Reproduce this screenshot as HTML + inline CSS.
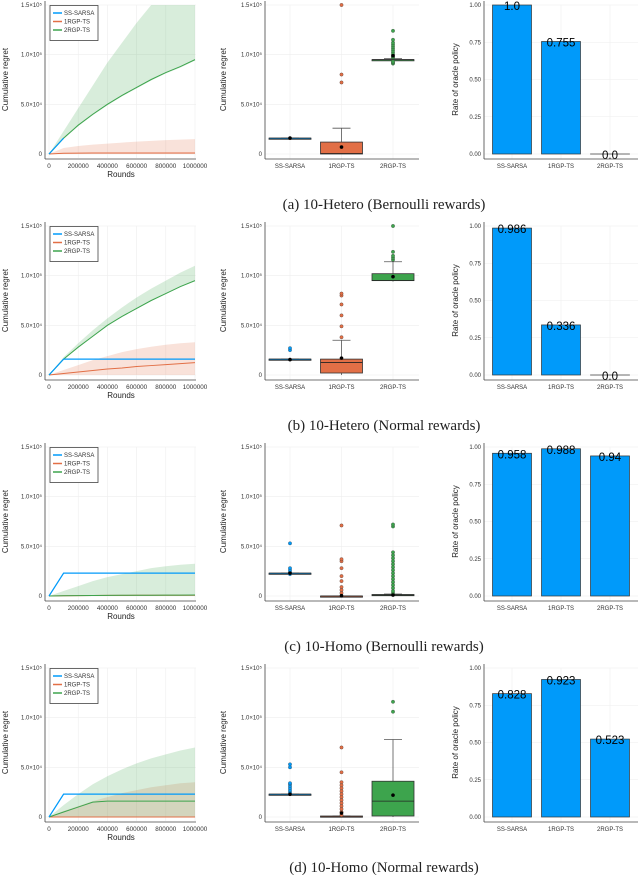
<!DOCTYPE html>
<html><head><meta charset="utf-8">
<style>
body{margin:0;background:#fff;}
svg{display:block;font-family:"Liberation Sans",sans-serif;}
.cap{font-family:"Liberation Serif",serif;font-size:15px;fill:#222;}
</style></head>
<body>
<svg id="fig" width="640" height="875" viewBox="0 0 640 875"></svg>
<script>
// ---- data ----
const panelTops = [5, 226, 447, 668];
const captions = ["(a) 10-Hetero (Bernoulli rewards)","(b) 10-Hetero (Normal rewards)","(c) 10-Homo (Bernoulli rewards)","(d) 10-Homo (Normal rewards)"];
const methods = ["SS-SARSA","1RGP-TS","2RGP-TS"];
const colors = ["#009AFA","#E26F46","#3DA44D"];
const rounds = [0,100000,200000,300000,400000,500000,600000,700000,800000,900000,1000000];
const xTicks = [0,200000,400000,600000,800000,1000000];
const yTicksRegret = [0,50000,100000,150000];
const yTickLabelsRegret = ["0","5.0×10⁴","1.0×10⁵","1.5×10⁵"];
const yTicksRate = [0,0.25,0.5,0.75,1.0];
const yTickLabelsRate = ["0.00","0.25","0.50","0.75","1.00"];

const ssMean = [
 [0,16000,null,null,null,null,null,null,null,null,null],
 [0,16000,16000,16000,16000,16000,16000,16000,16000,16000,16000],
 [0,23000,23000,23000,23000,23000,23000,23000,23000,23000,23000],
 [0,23000,23000,23000,23000,23000,23000,23000,23000,23000,23000]];
const rgp1Mean = [
 [0,800,900,1000,1000,1000,1000,1000,1000,1000,1000],
 [0,1500,3000,4500,6000,7000,8500,9500,10500,11500,12500],
 [0,300,400,500,600,600,700,700,700,700,800],
 [0,0,0,0,0,0,0,0,0,0,0]];
const rgp1Upper = [
 [0,6000,8000,9500,10500,11500,12500,13200,14000,14500,15000],
 [0,5000,10000,15000,19000,23000,26000,28500,30500,32000,33000],
 [0,800,900,1000,1000,1000,1000,1000,1000,1000,1000],
 [0,6000,11000,16000,20000,24000,27000,30000,32000,34000,35000]];
const rgp2Mean = [
 [0,16000,29000,40000,50000,59000,67000,75000,82000,88000,95000],
 [0,16000,28000,39000,50000,59000,67000,75000,82000,89000,95000],
 [0,300,400,500,600,700,800,800,900,900,1000],
 [0,5000,10000,15000,16000,16000,16000,16000,16000,16000,16000]];
const rgp2Lower = [
 [0,15000,28000,39000,49000,58000,66000,74000,81000,87000,94000],
 [0,15500,27500,38500,49500,58500,66500,74500,81500,88500,94500],
 [0,0,0,0,0,0,0,0,0,0,0],
 [0,0,0,0,0,0,0,0,0,0,0]];
const rgp2Upper = [
 [0,23000,46000,69000,92000,112000,132000,150000,150000,150000,150000],
 [0,18000,32000,45000,57000,68000,78000,87000,95000,103000,110000],
 [0,5000,10000,15000,19000,22000,25000,28000,30000,31500,32500],
 [0,12000,23000,33000,41000,48000,54000,59000,63000,67000,70000]];

const boxStats = [
 [[16000,16000,16000,16000,16000,16000],[0,500,12000,0,26000,7000],[95000,95000,95000,94000,96000,99000]],
 [[16000,16000,16000,16000,16000,15500],[2000,12500,16000,0,35000,17000],[95000,95000,102000,94000,114000,99000]],
 [[23000,23000,23000,23000,23000,23000],[0,0,0,0,0,300],[1000,1000,1500,0,2000,1000]],
 [[23000,23000,23000,23000,23000,23000],[0,0,1000,0,1000,4000],[1000,16000,36000,0,78000,22000]]];
const boxOutliers = [
 [[],[72000,80000,150000],[91000,92000,93000,97000,98000,100000,102000,104000,106000,108000,110000,112000,115000,124000]],
 [[25000,27000],[38000,49000,60000,71000,80000,82000],[116000,118000,120000,124000,150000]],
 [[22000,24000,26000,28000,53000],[3000,6000,9000,15000,20000,28000,35000,37000,71000],[3000,5000,8000,11000,14000,17000,20000,23000,26000,29000,32000,35000,38000,41000,44000,70000,72000]],
 [[23000,25000,27000,29000,31000,33000,34000,50000,53000],[2000,5000,8000,11000,14000,17000,20000,23000,26000,29000,32000,35000,45000,70000],[106000,116000]]];

const rates = [[1.0,0.755,0.0],[0.986,0.336,0.0],[0.958,0.988,0.94],[0.828,0.923,0.523]];
const rateLabels = [["1.0","0.755","0.0"],["0.986","0.336","0.0"],["0.958","0.988","0.94"],["0.828","0.923","0.523"]];

// ---- drawing ----
const NS="http://www.w3.org/2000/svg";
const svg=document.getElementById('fig');
function mk(tag,attrs,parent,text){const e=document.createElementNS(NS,tag);for(const k in attrs)e.setAttribute(k,attrs[k]);if(text!==undefined)e.textContent=text;(parent||svg).appendChild(e);return e;}
const H=149;
function yScaleR(top){return v=>top+H-(v/150000)*H;}
function yScaleB(top){return v=>top+H-v*H;}

panelTops.forEach((top,p)=>{
  const g=mk('g',{});
  
  
  const L=45,R=196,xs=v=>49+(v/1000000)*146, ys=yScaleR(top);
  const lg=mk('g',{},g);
  
  
  xTicks.forEach(t=>{mk('line',{x1:xs(t),x2:xs(t),y1:top,y2:top+H+4,stroke:'#eee','stroke-width':0.6},lg);});
  yTicksRegret.forEach(t=>{mk('line',{x1:L,x2:R,y1:ys(t),y2:ys(t),stroke:'#eee','stroke-width':0.6},lg);});
  function band(lo,up,col,name){
    let d='';rounds.forEach((r,i)=>{d+=(i?'L':'M')+xs(r)+','+ys(up[i]);});
    for(let i=rounds.length-1;i>=0;i--)d+='L'+xs(rounds[i])+','+ys(lo[i]);
    const b=mk('path',{d:d+'Z',fill:col,'fill-opacity':0.2,stroke:'none'},lg);
    
    
  }
  band(rounds.map(()=>0),rgp1Upper[p],colors[1],'band-1rgp-ts');
  band(rgp2Lower[p],rgp2Upper[p],colors[2],'band-2rgp-ts');
  function line(vals,col,name,w){
    let d='';let started=false;rounds.forEach((r,i)=>{if(vals[i]===null)return;d+=(started?'L':'M')+xs(r)+','+ys(vals[i]);started=true;});
    const l=mk('path',{d:d,fill:'none',stroke:col,'stroke-width':w},lg);
    
    
  }
  line(rgp1Mean[p],colors[1],'line-1rgp-ts',1.0);
  line(rgp2Mean[p],colors[2],'line-2rgp-ts',1.0);
  line(ssMean[p],colors[0],'line-ss-sarsa',1.2);
  mk('line',{x1:L,x2:L,y1:top-4,y2:top+H+5,stroke:'#444','stroke-width':0.8},lg);
  mk('line',{x1:L,x2:R,y1:top+H+5,y2:top+H+5,stroke:'#444','stroke-width':0.8},lg);
  yTicksRegret.forEach((t,i)=>{const tx=mk('text',{x:L-3,y:ys(t)+2,'font-size':6,fill:'#333','text-anchor':'end'},lg,yTickLabelsRegret[i]);
    });
  xTicks.forEach(t=>{const tx=mk('text',{x:xs(t),y:top+H+14,'font-size':6.3,fill:'#333','text-anchor':'middle'},lg,String(t));
    });
  const xl=mk('text',{x:121,y:top+H+23,'font-size':8,fill:'#222','text-anchor':'middle'},lg,'Rounds');
  
  const yl=mk('text',{x:0,y:0,'font-size':8,fill:'#222','text-anchor':'middle',transform:`translate(8,${top+H/2}) rotate(-90)`},lg,'Cumulative regret');
  
  const leg=mk('g',{},lg);
  
  
  mk('rect',{x:50,y:top+0.5,width:48,height:35,fill:'#fff',stroke:'#444','stroke-width':0.8},leg);
  methods.forEach((m,i)=>{
    mk('line',{x1:53,x2:62,y1:top+8+i*8.5,y2:top+8+i*8.5,stroke:colors[i],'stroke-width':1.5},leg);
    const t=mk('text',{x:64,y:top+10+i*8.5,'font-size':6,fill:'#333'},leg,m);
    
  });

  const BL=265,BR=419,bx=i=>290+i*51.5;
  const bg=mk('g',{},g);
  
  
  yTicksRegret.forEach(t=>{mk('line',{x1:BL,x2:BR,y1:ys(t),y2:ys(t),stroke:'#eee','stroke-width':0.6},bg);});
  methods.forEach((m,i)=>mk('line',{x1:bx(i),x2:bx(i),y1:top,y2:top+H+5,stroke:'#eee','stroke-width':0.6},bg));
  methods.forEach((m,i)=>{
    const s=boxStats[p][i],cx=bx(i),hw=21;
    const bgi=mk('g',{},bg);
    
    
    mk('line',{x1:cx,x2:cx,y1:ys(s[3]),y2:ys(s[4]),stroke:'#555','stroke-width':0.8},bgi);
    mk('line',{x1:cx-9,x2:cx+9,y1:ys(s[4]),y2:ys(s[4]),stroke:'#555','stroke-width':0.8},bgi);
    const h=Math.max(ys(s[0])-ys(s[2]),1.2);
    mk('rect',{x:cx-hw,y:ys(s[2]),width:2*hw,height:h,fill:colors[i],stroke:'#333','stroke-width':0.8},bgi);
    mk('line',{x1:cx-hw,x2:cx+hw,y1:ys(s[1]),y2:ys(s[1]),stroke:'#222','stroke-width':0.8},bgi);
    boxOutliers[p][i].forEach(v=>{const c=mk('circle',{cx:cx,cy:ys(v),r:1.7,fill:colors[i],stroke:'#333','stroke-width':0.3},bgi);
      });
    const mc=mk('circle',{cx:cx,cy:ys(s[5]),r:1.8,fill:'#000'},bgi);
    
    const t=mk('text',{x:cx,y:top+H+14,'font-size':6,fill:'#333','text-anchor':'middle'},bg,m);
    
  });
  mk('line',{x1:BL,x2:BL,y1:top-4,y2:top+H+5,stroke:'#444','stroke-width':0.8},bg);
  mk('line',{x1:BL,x2:BR,y1:top+H+5,y2:top+H+5,stroke:'#444','stroke-width':0.8},bg);
  yTicksRegret.forEach((t,i)=>{const tx=mk('text',{x:BL-3,y:ys(t)+2,'font-size':6,fill:'#333','text-anchor':'end'},bg,yTickLabelsRegret[i]);
    });
  const byl=mk('text',{x:0,y:0,'font-size':8,fill:'#222','text-anchor':'middle',transform:`translate(226,${top+H/2}) rotate(-90)`},bg,'Cumulative regret');
  

  const RL=484,RR=638,rx=i=>512+i*49,yb=yScaleB(top);
  const rg=mk('g',{},g);
  
  
  yTicksRate.forEach(t=>mk('line',{x1:RL,x2:RR,y1:yb(t),y2:yb(t),stroke:'#eee','stroke-width':0.6},rg));
  methods.forEach((m,i)=>mk('line',{x1:rx(i),x2:rx(i),y1:top,y2:top+H+5,stroke:'#eee','stroke-width':0.6},rg));
  methods.forEach((m,i)=>{
    const v=rates[p][i];
    const b=mk('rect',{x:rx(i)-19.5,y:yb(v),width:39,height:Math.max(yb(0)-yb(v),0.01),fill:'#009AFA',stroke:'#333','stroke-width':0.7},rg);
    
    const vl=mk('text',{x:rx(i),y:yb(v)+5,'font-size':11.5,fill:'#000','text-anchor':'middle'},rg,rateLabels[p][i]);
    
    const t=mk('text',{x:rx(i),y:top+H+14,'font-size':6,fill:'#333','text-anchor':'middle'},rg,m);
    
  });
  mk('line',{x1:RL,x2:RL,y1:top-4,y2:top+H+5,stroke:'#444','stroke-width':0.8},rg);
  mk('line',{x1:RL,x2:RR,y1:top+H+5,y2:top+H+5,stroke:'#444','stroke-width':0.8},rg);
  yTicksRate.forEach((t,i)=>{const tx=mk('text',{x:RL-3,y:yb(t)+2,'font-size':6,fill:'#333','text-anchor':'end'},rg,yTickLabelsRate[i]);
    });
  const ryl=mk('text',{x:0,y:0,'font-size':8,fill:'#222','text-anchor':'middle',transform:`translate(458,${top+H/2}) rotate(-90)`},rg,'Rate of oracle policy');
  

  const cap=mk('text',{x:384,y:top+204,'class':'cap','text-anchor':'middle'},g,captions[p]);
  
});
</script>
</body></html>
